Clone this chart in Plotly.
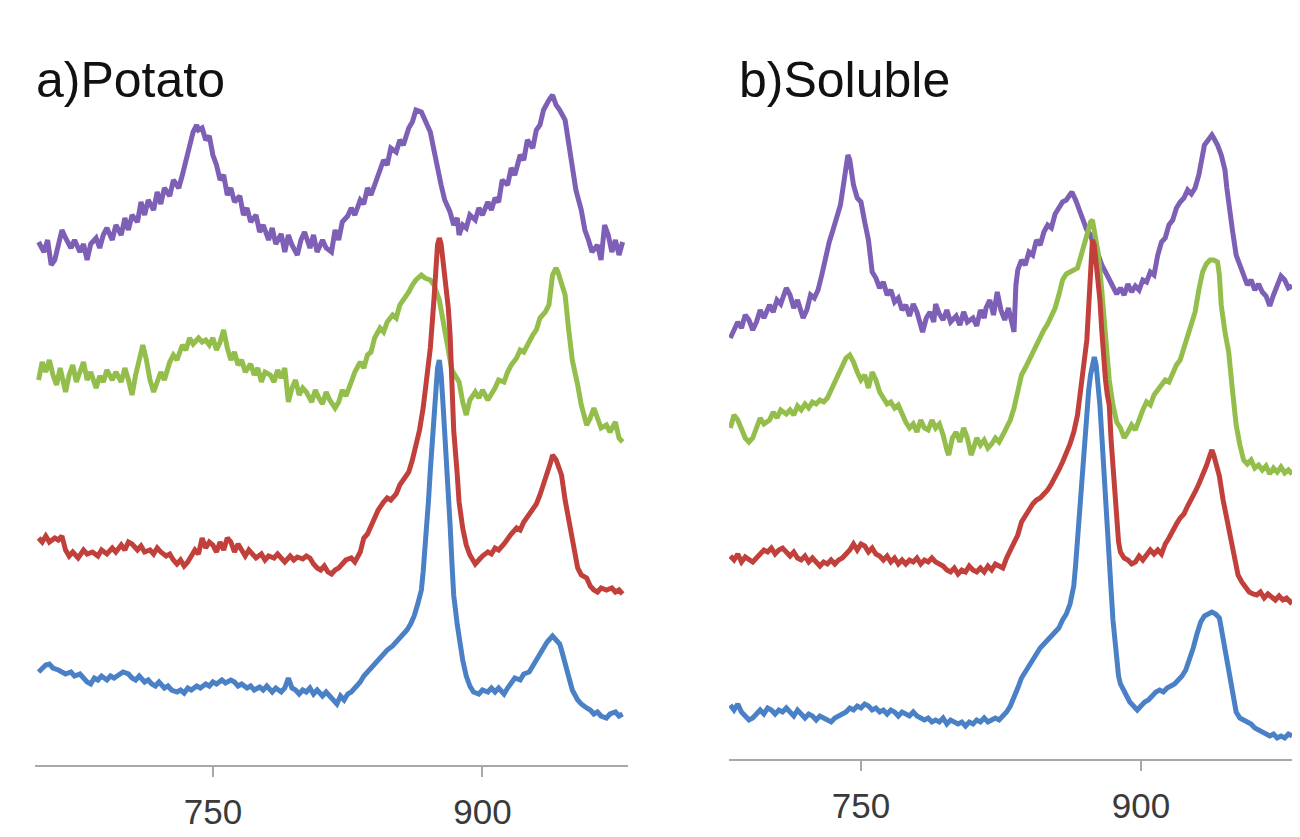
import plotly.graph_objects as go

# ---------------- data: wavenumber (cm-1) and offset-stacked intensity (a.u.) ----------------
# Panel a) Potato
a_purple_x = [653, 656, 658, 660, 662, 664, 666, 668, 671, 673, 676, 678, 680, 682, 685, 687, 689, 691, 694, 696, 699, 701, 703, 705, 708, 710, 712, 714, 717, 719, 721, 723, 726, 728, 731, 733, 735, 737, 739, 741, 742, 744, 746, 748, 750, 752, 754, 756, 758, 760, 762, 765, 767, 769, 771, 774, 776, 778, 781, 783, 785, 788, 790, 792, 794, 797, 799, 801, 804, 806, 808, 811, 813, 816, 818, 820, 822, 825, 827, 829, 832, 834, 836, 838, 841, 843, 845, 847, 849, 852, 854, 856, 859, 861, 863, 866, 868, 871, 873, 875, 877, 879, 882, 884, 886, 887, 889, 891, 893, 896, 898, 900, 903, 905, 907, 909, 911, 914, 916, 918, 921, 923, 925, 928, 930, 932, 934, 937, 939, 941, 943, 946, 948, 950, 952, 955, 957, 959, 961, 964, 966, 968, 970, 972, 974, 976, 978]
a_purple_y = [558, 548, 560, 535, 540, 555, 570, 562, 552, 560, 548, 556, 540, 556, 562, 552, 565, 572, 560, 575, 565, 582, 570, 585, 578, 598, 585, 600, 590, 608, 596, 612, 604, 620, 612, 625, 640, 655, 668, 675, 670, 672, 660, 664, 645, 635, 620, 625, 605, 612, 598, 604, 585, 592, 578, 585, 568, 575, 560, 572, 556, 566, 548, 565, 555, 545, 560, 568, 552, 565, 548, 560, 552, 548, 570, 560, 578, 584, 592, 585, 600, 596, 612, 605, 620, 628, 640, 635, 652, 648, 660, 655, 672, 678, 690, 688, 680, 668, 650, 630, 615, 600, 588, 575, 582, 565, 575, 572, 585, 580, 592, 585, 598, 590, 602, 598, 620, 615, 632, 625, 645, 640, 660, 652, 670, 675, 690, 700, 705, 695, 690, 680, 655, 632, 610, 590, 570, 560, 548, 555, 540, 575, 565, 548, 560, 545, 558]

a_green_x = [653, 655, 657, 659, 661, 663, 665, 668, 670, 672, 674, 676, 678, 680, 682, 685, 687, 689, 691, 694, 696, 699, 701, 703, 705, 707, 709, 711, 713, 715, 717, 719, 721, 723, 726, 728, 730, 733, 735, 737, 739, 742, 744, 746, 748, 750, 752, 754, 756, 758, 760, 762, 764, 766, 768, 771, 773, 775, 777, 779, 782, 784, 786, 788, 790, 792, 794, 796, 798, 800, 802, 805, 807, 809, 811, 813, 815, 818, 820, 822, 824, 827, 829, 832, 834, 836, 838, 840, 843, 845, 847, 850, 852, 854, 857, 859, 861, 863, 866, 868, 871, 873, 876, 878, 880, 882, 883, 885, 887, 889, 891, 893, 896, 898, 900, 903, 905, 907, 909, 912, 914, 916, 919, 921, 923, 926, 928, 930, 932, 935, 937, 939, 941, 942, 944, 946, 948, 950, 953, 955, 958, 960, 962, 964, 966, 969, 971, 974, 976, 978]
a_green_y = [420, 438, 428, 440, 425, 415, 432, 408, 425, 435, 418, 430, 438, 420, 428, 412, 424, 418, 430, 420, 428, 418, 432, 420, 405, 425, 438, 455, 440, 420, 408, 418, 428, 420, 438, 445, 440, 455, 450, 462, 456, 462, 458, 460, 455, 462, 450, 458, 470, 452, 440, 448, 435, 440, 428, 436, 425, 432, 418, 428, 425, 418, 430, 422, 432, 398, 412, 420, 405, 412, 408, 398, 410, 402, 396, 408, 400, 392, 398, 410, 404, 418, 428, 438, 432, 445, 448, 462, 472, 468, 478, 485, 482, 495, 502, 508, 515, 520, 525, 522, 520, 515, 500, 482, 460, 440, 430, 425, 418, 398, 385, 400, 408, 402, 410, 400, 405, 412, 420, 418, 428, 435, 442, 450, 448, 460, 465, 470, 482, 488, 495, 525, 532, 528, 515, 505, 470, 440, 415, 395, 375, 382, 392, 380, 372, 375, 368, 378, 362, 358]

a_red_x = [653, 655, 657, 659, 662, 664, 666, 668, 670, 672, 675, 678, 680, 683, 686, 688, 691, 694, 696, 699, 701, 703, 705, 708, 710, 712, 715, 717, 719, 721, 724, 726, 728, 730, 732, 734, 736, 738, 740, 742, 744, 746, 748, 750, 752, 754, 756, 758, 760, 762, 764, 766, 768, 770, 772, 774, 777, 779, 781, 784, 786, 788, 790, 793, 795, 797, 800, 802, 804, 806, 808, 810, 812, 814, 816, 818, 820, 822, 824, 827, 829, 832, 834, 836, 838, 840, 842, 845, 847, 849, 852, 854, 856, 859, 861, 863, 865, 867, 869, 871, 873, 874, 875, 876, 877, 878, 880, 881, 882, 883, 884, 886, 887, 889, 891, 893, 896, 898, 900, 903, 905, 907, 909, 912, 914, 916, 919, 921, 923, 926, 928, 930, 932, 934, 936, 938, 939, 941, 943, 944, 946, 948, 950, 952, 953, 955, 958, 960, 962, 964, 966, 969, 972, 974, 976, 978]
a_red_y = [262, 258, 264, 258, 262, 260, 264, 250, 244, 248, 242, 250, 246, 248, 244, 250, 246, 252, 248, 255, 250, 258, 256, 250, 254, 248, 250, 246, 252, 248, 244, 246, 240, 236, 240, 234, 238, 244, 250, 246, 262, 252, 258, 255, 248, 258, 250, 262, 258, 248, 256, 250, 244, 250, 246, 242, 246, 240, 244, 242, 246, 242, 238, 244, 240, 243, 241, 244, 242, 236, 232, 230, 234, 228, 226, 230, 232, 236, 240, 242, 238, 248, 262, 266, 275, 282, 290, 298, 302, 300, 306, 315, 320, 328, 340, 355, 370, 392, 420, 452, 500, 540, 555, 562, 556, 540, 510, 492, 465, 420, 370, 325, 298, 272, 255, 245, 236, 240, 244, 248, 246, 252, 250, 256, 262, 266, 272, 270, 278, 285, 290, 296, 305, 315, 325, 338, 345, 340, 330, 325, 300, 280, 260, 240, 232, 225, 222, 214, 210, 208, 212, 210, 212, 208, 210, 206]

a_blue_x = [653, 655, 657, 659, 661, 664, 666, 668, 671, 673, 676, 678, 680, 682, 684, 686, 688, 691, 693, 695, 698, 700, 703, 705, 707, 709, 712, 714, 716, 718, 720, 723, 725, 727, 730, 732, 734, 736, 738, 741, 743, 746, 748, 750, 752, 755, 757, 760, 762, 764, 766, 769, 771, 773, 776, 778, 780, 783, 785, 788, 790, 792, 794, 796, 798, 800, 802, 804, 806, 808, 811, 813, 815, 817, 819, 821, 823, 825, 827, 829, 832, 834, 836, 838, 841, 843, 845, 847, 850, 852, 854, 856, 858, 860, 862, 864, 866, 867, 868, 869, 870, 871, 872, 873, 874, 875, 876, 877, 878, 879, 880, 881, 882, 883, 884, 886, 887, 889, 891, 893, 895, 898, 900, 903, 905, 907, 909, 912, 914, 916, 918, 921, 923, 926, 928, 930, 932, 934, 936, 938, 939, 941, 943, 944, 946, 948, 950, 953, 955, 958, 960, 962, 964, 966, 969, 971, 974, 976, 978]
a_blue_y = [128, 132, 135, 136, 132, 130, 128, 126, 128, 124, 126, 122, 118, 116, 122, 120, 124, 120, 124, 122, 126, 128, 126, 122, 120, 124, 118, 120, 116, 114, 118, 112, 114, 110, 108, 110, 107, 112, 110, 114, 112, 116, 114, 118, 116, 120, 117, 120, 118, 114, 116, 112, 114, 110, 113, 110, 114, 108, 112, 108, 112, 122, 112, 110, 106, 110, 108, 112, 106, 110, 104, 108, 104, 100, 96, 104, 100, 106, 108, 112, 118, 124, 128, 132, 138, 142, 146, 150, 154, 158, 162, 166, 170, 176, 184, 196, 210, 228, 248, 272, 300, 330, 355, 385, 415, 432, 440, 425, 398, 370, 340, 312, 275, 238, 205, 175, 160, 140, 124, 114, 108, 106, 110, 108, 112, 108, 112, 106, 112, 118, 122, 120, 126, 128, 134, 140, 148, 152, 158, 162, 164, 160, 156, 150, 136, 122, 110, 100, 96, 92, 90, 86, 88, 84, 82, 86, 88, 84, 86]

# Panel b) Soluble
b_purple_x = [680, 682, 684, 686, 688, 690, 692, 694, 696, 698, 701, 703, 705, 707, 710, 712, 714, 716, 719, 721, 723, 725, 727, 729, 731, 733, 735, 737, 739, 741, 742, 743, 744, 746, 748, 750, 752, 754, 756, 758, 760, 762, 764, 766, 768, 770, 772, 774, 776, 778, 780, 782, 783, 785, 787, 789, 790, 792, 794, 796, 798, 801, 803, 805, 807, 810, 812, 814, 816, 817, 819, 821, 823, 825, 827, 829, 831, 832, 833, 834, 836, 838, 840, 842, 844, 846, 848, 850, 852, 854, 856, 858, 860, 862, 863, 865, 867, 869, 871, 873, 875, 877, 879, 881, 883, 885, 887, 889, 891, 893, 895, 897, 899, 901, 903, 905, 907, 909, 911, 913, 915, 917, 919, 921, 923, 925, 927, 929, 931, 933, 934, 936, 938, 939, 941, 943, 945, 946, 947, 949, 951, 953, 955, 957, 959, 961, 963, 965, 967, 969, 971, 973, 975, 977, 979, 981]
b_purple_y = [462, 470, 478, 472, 485, 480, 470, 478, 490, 482, 495, 488, 500, 496, 512, 505, 492, 500, 482, 490, 505, 502, 510, 525, 542, 558, 570, 585, 595, 620, 635, 645, 640, 615, 602, 598, 578, 560, 528, 522, 512, 518, 505, 510, 498, 502, 490, 495, 484, 496, 488, 475, 468, 482, 488, 478, 496, 486, 480, 490, 478, 484, 475, 488, 478, 482, 474, 490, 482, 492, 500, 485, 508, 490, 480, 492, 472, 468, 515, 530, 540, 535, 548, 545, 560, 555, 568, 575, 572, 586, 592, 598, 600, 606, 608, 600, 590, 578, 570, 565, 552, 546, 535, 528, 520, 512, 506, 512, 505, 516, 508, 514, 510, 520, 518, 528, 525, 545, 558, 562, 575, 580, 592, 598, 602, 610, 606, 612, 625, 645, 655, 660, 665, 662, 655, 645, 630, 612, 595, 570, 545, 535, 522, 515, 520, 510, 516, 508, 504, 494, 505, 515, 524, 520, 512, 514]

b_green_x = [680, 682, 684, 686, 688, 690, 692, 694, 696, 698, 701, 703, 705, 707, 710, 712, 714, 716, 718, 720, 722, 724, 726, 728, 730, 732, 734, 736, 738, 740, 742, 744, 746, 748, 750, 752, 754, 756, 758, 760, 762, 764, 766, 768, 770, 772, 774, 776, 778, 780, 782, 784, 786, 788, 790, 792, 794, 796, 797, 799, 801, 803, 805, 807, 809, 810, 812, 814, 816, 818, 820, 822, 824, 826, 828, 830, 832, 834, 836, 838, 840, 842, 844, 846, 848, 850, 852, 854, 856, 858, 860, 862, 864, 866, 868, 870, 872, 873, 874, 875, 877, 879, 881, 883, 885, 887, 889, 891, 893, 895, 897, 899, 901, 903, 905, 907, 909, 911, 913, 915, 917, 919, 921, 923, 925, 927, 929, 931, 933, 935, 937, 939, 941, 942, 943, 945, 947, 949, 951, 953, 955, 957, 959, 961, 963, 965, 967, 969, 971, 973, 975, 977, 979, 981]
b_green_y = [372, 385, 380, 370, 362, 358, 362, 372, 382, 376, 380, 388, 382, 390, 386, 390, 385, 394, 390, 396, 392, 398, 396, 400, 398, 402, 410, 418, 425, 435, 442, 445, 438, 428, 420, 425, 412, 428, 420, 408, 402, 396, 398, 392, 395, 385, 378, 372, 376, 368, 380, 372, 370, 380, 372, 376, 365, 350, 345, 362, 368, 358, 372, 362, 345, 350, 362, 355, 360, 352, 356, 362, 358, 365, 372, 380, 392, 410, 425, 432, 440, 448, 455, 462, 470, 476, 484, 492, 505, 520, 526, 528, 530, 532, 545, 560, 572, 578, 580, 570, 548, 510, 470, 420, 395, 378, 372, 362, 368, 375, 370, 382, 390, 398, 395, 405, 410, 415, 420, 418, 428, 435, 440, 452, 462, 472, 488, 510, 528, 536, 540, 540, 538, 525, 495, 468, 448, 410, 375, 355, 340, 336, 340, 332, 335, 330, 334, 326, 332, 328, 333, 327, 330, 326]

b_red_x = [680, 682, 684, 686, 688, 690, 692, 694, 696, 698, 700, 702, 704, 706, 708, 710, 712, 714, 716, 718, 720, 722, 724, 726, 728, 730, 732, 734, 736, 738, 740, 742, 744, 746, 748, 750, 752, 754, 756, 758, 760, 762, 764, 766, 768, 770, 772, 774, 776, 778, 780, 782, 784, 786, 788, 790, 792, 794, 796, 798, 800, 802, 804, 806, 808, 810, 812, 814, 816, 818, 820, 822, 824, 826, 828, 830, 832, 834, 836, 838, 840, 842, 844, 846, 848, 850, 852, 854, 856, 858, 860, 862, 864, 866, 867, 868, 869, 870, 871, 872, 873, 874, 875, 876, 877, 878, 879, 880, 881, 882, 883, 884, 885, 886, 887, 888, 889, 891, 893, 895, 897, 899, 901, 903, 905, 907, 909, 911, 913, 915, 917, 919, 921, 923, 925, 927, 929, 931, 933, 935, 937, 938, 939, 941, 942, 944, 946, 948, 950, 952, 954, 956, 958, 960, 962, 964, 966, 968, 970, 972, 974, 976, 978, 980, 981]
b_red_y = [244, 240, 246, 238, 243, 240, 238, 242, 246, 250, 248, 252, 246, 250, 252, 248, 244, 248, 242, 240, 244, 238, 242, 238, 234, 238, 236, 240, 236, 240, 242, 246, 250, 256, 250, 256, 254, 248, 252, 246, 244, 240, 244, 238, 242, 236, 240, 236, 240, 238, 242, 236, 240, 238, 242, 238, 236, 234, 230, 228, 232, 226, 230, 228, 234, 230, 228, 232, 228, 234, 230, 236, 234, 232, 242, 250, 258, 265, 278, 285, 290, 296, 300, 302, 306, 310, 316, 322, 330, 338, 346, 356, 368, 385, 400, 418, 430, 445, 460, 490, 520, 560, 555, 540, 525, 500, 470, 440, 420, 405, 395, 360, 330, 300, 275, 258, 248, 242, 240, 236, 238, 244, 240, 246, 250, 246, 250, 246, 256, 262, 270, 276, 282, 286, 294, 300, 308, 316, 324, 334, 345, 350, 345, 332, 324, 300, 282, 262, 240, 225, 218, 212, 208, 206, 205, 208, 202, 206, 203, 200, 204, 200, 202, 198, 200]

b_blue_x = [680, 682, 684, 686, 688, 690, 692, 694, 696, 698, 700, 702, 704, 706, 708, 710, 712, 714, 716, 718, 720, 722, 724, 726, 728, 730, 732, 734, 736, 738, 740, 742, 744, 746, 748, 750, 752, 754, 756, 758, 760, 762, 764, 766, 768, 770, 772, 774, 776, 778, 780, 782, 784, 786, 788, 790, 792, 794, 796, 798, 800, 802, 804, 806, 808, 810, 812, 814, 816, 818, 820, 822, 824, 826, 828, 830, 832, 834, 836, 838, 840, 842, 844, 846, 848, 850, 852, 854, 856, 858, 860, 862, 864, 865, 866, 867, 868, 869, 870, 871, 872, 873, 874, 875, 876, 877, 878, 879, 880, 881, 882, 883, 884, 885, 886, 887, 888, 889, 890, 892, 894, 896, 898, 900, 902, 904, 906, 908, 910, 912, 914, 916, 918, 920, 922, 924, 926, 928, 930, 932, 934, 936, 938, 940, 942, 943, 945, 947, 949, 951, 953, 955, 957, 959, 961, 963, 965, 967, 969, 971, 973, 975, 977, 979, 981]
b_blue_y = [95, 90, 96, 88, 84, 80, 82, 86, 90, 86, 92, 90, 86, 90, 88, 92, 88, 84, 90, 86, 82, 86, 84, 80, 84, 82, 80, 78, 82, 84, 86, 88, 92, 90, 94, 92, 96, 94, 90, 92, 88, 90, 86, 90, 88, 84, 88, 86, 84, 88, 84, 82, 80, 82, 78, 80, 78, 82, 76, 80, 78, 76, 78, 74, 78, 76, 80, 78, 82, 78, 80, 82, 80, 84, 88, 94, 102, 112, 122, 128, 136, 142, 148, 152, 156, 160, 164, 168, 172, 180, 186, 196, 214, 235, 260, 290, 320, 345, 365, 390, 410, 425, 438, 443, 435, 418, 395, 365, 330, 300, 270, 240, 210, 180, 160, 140, 124, 116, 112, 106, 98, 94, 90, 94, 98, 100, 104, 108, 110, 108, 112, 114, 116, 120, 124, 130, 140, 152, 166, 178, 184, 186, 188, 186, 182, 172, 150, 128, 104, 88, 82, 80, 78, 76, 72, 70, 68, 66, 64, 66, 62, 64, 62, 66, 64]

tick_vals = [750, 900]
titles = ["a)Potato", "b)Soluble"]

PURPLE = "#7D5FB5"
GREEN = "#94BE4C"
RED = "#C2403B"
BLUE = "#4A80C6"

# the page body adds an 8 px margin; size the figure to fill the rest of the window
W, H = 1292, 829

fig = go.Figure()

panels = [
    ("x", "y", [(a_purple_x, a_purple_y, PURPLE), (a_green_x, a_green_y, GREEN),
                (a_red_x, a_red_y, RED), (a_blue_x, a_blue_y, BLUE)]),
    ("x2", "y2", [(b_purple_x, b_purple_y, PURPLE), (b_green_x, b_green_y, GREEN),
                  (b_red_x, b_red_y, RED), (b_blue_x, b_blue_y, BLUE)]),
]
for xa, ya, series in panels:
    for xs, ys, col in series:
        fig.add_trace(go.Scatter(x=xs, y=ys, xaxis=xa, yaxis=ya, mode="lines",
                                 line=dict(color=col, width=5), showlegend=False,
                                 hoverinfo="skip"))

axis_common = dict(
    showline=True, linecolor="#a8a8a8", linewidth=2,
    ticks="outside", ticklen=10, tickwidth=1.5, tickcolor="#a8a8a8",
    tickvals=tick_vals, ticktext=[str(v) for v in tick_vals],
    tickfont=dict(family="Liberation Sans, Arial, sans-serif", size=35, color="#3a3a3a"),
    showgrid=False, zeroline=False, ticklabelstandoff=5,
)

title_font = dict(family="Liberation Sans, Arial, sans-serif", size=50, color="#111111")

fig.update_layout(
    width=W, height=H,
    margin=dict(l=0, r=0, t=0, b=0),
    paper_bgcolor="white", plot_bgcolor="white",
    xaxis=dict(domain=[27 / W, 620 / W], range=[651, 981], anchor="y", **axis_common),
    xaxis2=dict(domain=[721 / W, 1.0], range=[679.3, 985.2], anchor="y2", **axis_common),
    yaxis=dict(domain=[72 / H, 1], range=[35, 792], visible=False),
    yaxis2=dict(domain=[78 / H, 1], range=[41, 792], visible=False, anchor="x2"),
    annotations=[
        dict(text=titles[0], x=26 / W, y=1 - 42 / H, xref="paper", yref="paper",
             xanchor="left", yanchor="top", showarrow=False, font=title_font),
        dict(text=titles[1], x=729 / W, y=1 - 42 / H, xref="paper", yref="paper",
             xanchor="left", yanchor="top", showarrow=False, font=title_font),
    ],
)

fig.write_html("out.html")
